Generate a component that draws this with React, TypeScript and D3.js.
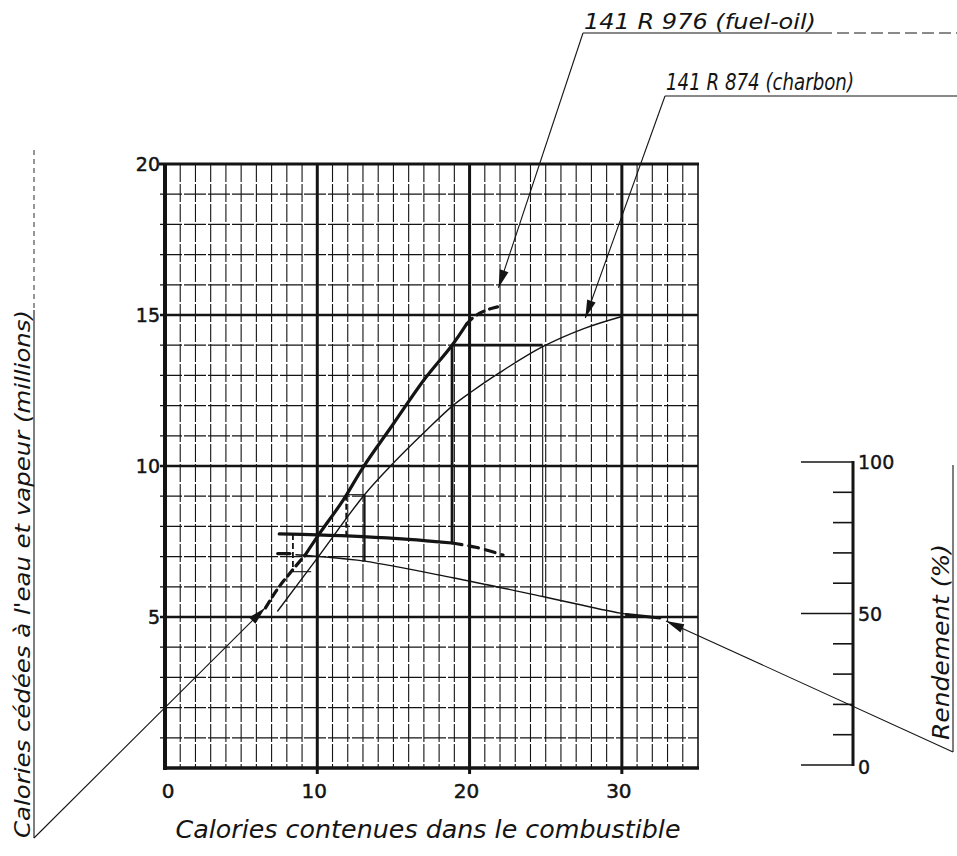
import React, { useEffect, useRef } from "react";
import * as d3 from "d3";

// axis ticks
const xTicks = [0, 10, 20, 30];
const yTicks = [5, 10, 15, 20];
const rendementTicks = [0, 10, 20, 30, 40, 50, 60, 70, 80, 90, 100];
const rendementLabels = [0, 50, 100];

// 141 R 976 (fuel-oil) : calories given vs calories in fuel (millions)
const fuelOutLow = [[6.6, 5.3], [7.35, 5.9], [8.2, 6.45], [9.2, 7.05]];
const fuelOutMain = [[9.2, 7.05], [10.2, 7.8], [11.7, 8.87], [13, 9.95], [15, 11.4], [17, 12.85], [18.85, 14.0], [19.8, 14.7]];
const fuelOutTop = [[19.8, 14.7], [20.4, 14.98], [21.2, 15.18], [22.1, 15.3]];

// 141 R 874 (charbon)
const charbonOut = [[7.4, 5.2], [10, 6.95], [13.1, 9.05], [15, 10.1], [17.2, 11.2], [18.9, 12.0], [20.1, 12.45], [22, 13.1], [24.8, 13.95], [27.5, 14.55], [30, 14.95]];

// efficiency curves (y * 10 = %)
const fuelEff = [[7.5, 7.75], [10, 7.72], [13, 7.66], [16, 7.57], [18.85, 7.45]];
const fuelEffDash = [[18.85, 7.45], [20.5, 7.3], [22.2, 7.05]];
const charbonEffStub = [[7.4, 7.1], [8.2, 7.1]];
const charbonEff = [[8.6, 7.06], [10.2, 7.0], [13.1, 6.85], [18.9, 6.3], [24.8, 5.68], [29.9, 5.13], [32.5, 4.97]];
const charbonEffEnd = [[30.3, 5.08], [32.5, 4.97]];

// construction lines [x1, y1, x2, y2]
const buildThick = [[18.85, 14.0, 18.85, 7.45], [18.85, 14.0, 24.8, 14.0]];
const buildMedium = [[13.1, 9.05, 13.1, 6.85]];
const buildThin = [[24.8, 14.0, 24.8, 5.68], [11.9, 9.05, 13.1, 9.05], [8.4, 6.5, 9.6, 6.5]];
const buildDashed = [[11.9, 9.05, 11.9, 7.65], [8.4, 7.75, 8.4, 6.5]];

// arrow tips of the label leaders (data units)
const fuelTip = [21.9, 15.9];
const charbonTip = [27.6, 14.9];
const rendementTip = [32.9, 4.87];
const yLabelTip = [6.57, 5.3];

const ink = "#141414";
const font = "'DejaVu Sans', sans-serif";

const App = () => {
  const svgRef = useRef(null);

  useEffect(() => {
    const svg = d3.select(svgRef.current);
    svg.selectAll("*").remove();

    const x = d3.scaleLinear().domain([0, 35]).range([165, 698]);
    const y = d3.scaleLinear().domain([0, 20]).range([768, 164]);
    const r = d3.scaleLinear().domain([0, 100]).range([765, 462]);
    const rX = 853;

    const g = svg.append("g");

    // grid
    const unitsX = d3.range(1, 35);
    const unitsY = d3.range(1, 20);
    g.selectAll(".vx")
      .data(unitsX)
      .enter()
      .append("line")
      .attr("x1", (d) => x(d))
      .attr("x2", (d) => x(d))
      .attr("y1", y(20))
      .attr("y2", (d) => (d % 10 === 0 ? y(0) + 6 : y(0)))
      .attr("stroke", ink)
      .attr("stroke-width", (d) => (d % 10 === 0 ? 3 : 1.1))
      .attr("stroke-dasharray", (d) => (d % 10 === 0 ? null : "18,2"));

    g.selectAll(".hy")
      .data(unitsY)
      .enter()
      .append("line")
      .attr("x1", x(0) - 5)
      .attr("x2", x(35))
      .attr("y1", (d) => y(d))
      .attr("y2", (d) => y(d))
      .attr("stroke", ink)
      .attr("stroke-width", (d) => (d % 5 === 0 ? 2.6 : 1.3))
      .attr("stroke-dasharray", (d) => (d % 5 === 0 ? null : "22,2"));

    // frame
    g.append("line").attr("x1", x(0) - 6).attr("x2", x(35) + 1).attr("y1", y(20)).attr("y2", y(20)).attr("stroke", ink).attr("stroke-width", 3);
    g.append("line").attr("x1", x(0) - 2).attr("x2", x(35) + 1).attr("y1", y(0)).attr("y2", y(0)).attr("stroke", ink).attr("stroke-width", 3.5);
    g.append("line").attr("x1", x(0)).attr("x2", x(0)).attr("y1", y(20) - 1).attr("y2", y(0) + 2).attr("stroke", ink).attr("stroke-width", 4);
    g.append("line").attr("x1", x(35)).attr("x2", x(35)).attr("y1", y(20)).attr("y2", y(0)).attr("stroke", ink).attr("stroke-width", 1.6);

    // tick labels
    g.selectAll(".xt")
      .data(xTicks)
      .enter()
      .append("text")
      .attr("x", (d) => x(d) + (d === 0 ? 3 : -3))
      .attr("y", 798)
      .attr("text-anchor", "middle")
      .attr("font-family", font)
      .attr("font-size", 20)
      .attr("stroke", ink)
      .attr("stroke-width", 0.5)
      .attr("fill", ink)
      .text((d) => d);

    g.selectAll(".yt")
      .data(yTicks)
      .enter()
      .append("text")
      .attr("x", x(0) - 5)
      .attr("y", (d) => y(d) + 7)
      .attr("text-anchor", "end")
      .attr("font-family", font)
      .attr("font-size", 19)
      .attr("stroke", ink)
      .attr("stroke-width", 0.5)
      .attr("fill", ink)
      .text((d) => d);

    const line = d3
      .line()
      .x((d) => x(d[0]))
      .y((d) => y(d[1]))
      .curve(d3.curveCatmullRom);

    const draw = (pts, w, dash) =>
      g.append("path")
        .attr("d", line(pts))
        .attr("fill", "none")
        .attr("stroke", ink)
        .attr("stroke-width", w)
        .attr("stroke-linecap", "round")
        .attr("stroke-dasharray", dash || null);

    // curves
    draw(charbonOut, 1.4);
    draw(fuelOutLow, 3.2, "8,5");
    draw(fuelOutMain, 3.2);
    draw(fuelOutTop, 3.2, "8,6");
    draw(fuelEff, 3.2);
    draw(fuelEffDash, 3.2, "10,7");
    draw(charbonEffStub, 3.2);
    draw(charbonEff, 1.4);
    draw(charbonEffEnd, 3);

    // construction lines
    const seg = (list, w, dash) =>
      list.forEach((s) =>
        g.append("line")
          .attr("x1", x(s[0]))
          .attr("y1", y(s[1]))
          .attr("x2", x(s[2]))
          .attr("y2", y(s[3]))
          .attr("stroke", ink)
          .attr("stroke-width", w)
          .attr("stroke-dasharray", dash || null)
      );
    seg(buildThick, 2.8);
    seg(buildMedium, 2.2);
    seg(buildThin, 1.1);
    seg(buildDashed, 1.8, "6,3");

    // leader with arrowhead
    const leader = (from, tipData) => {
      const tx = x(tipData[0]);
      const ty = y(tipData[1]);
      g.append("line")
        .attr("x1", from[0])
        .attr("y1", from[1])
        .attr("x2", tx)
        .attr("y2", ty)
        .attr("stroke", ink)
        .attr("stroke-width", 1.1);
      const a = Math.atan2(ty - from[1], tx - from[0]);
      const L = 18;
      const w = 4.5;
      const bx = tx - L * Math.cos(a);
      const by = ty - L * Math.sin(a);
      const px = -Math.sin(a) * w;
      const py = Math.cos(a) * w;
      g.append("polygon")
        .attr("points", `${tx},${ty} ${bx + px},${by + py} ${bx - px},${by - py}`)
        .attr("fill", ink);
    };

    // label helper
    const label = (txt, lx, ly, len, size, rotate) =>
      g.append("text")
        .attr("transform", rotate ? `translate(${lx},${ly}) rotate(-90)` : `translate(${lx},${ly})`)
        .attr("text-anchor", "middle")
        .attr("font-family", font)
        .attr("font-style", "italic")
        .attr("font-size", size)
        .attr("textLength", len)
        .attr("lengthAdjust", "spacingAndGlyphs")
        .attr("fill", ink)
        .text(txt);

    // top labels
    label("141 R 976 (fuel-oil)", 700, 29, 232, 22);
    g.append("line").attr("x1", 583).attr("x2", 820).attr("y1", 33).attr("y2", 33).attr("stroke", ink).attr("stroke-width", 1.1);
    g.append("line").attr("x1", 820).attr("x2", 957).attr("y1", 33).attr("y2", 33).attr("stroke", ink).attr("stroke-width", 1).attr("stroke-dasharray", "12,5");
    leader([583, 33], fuelTip);

    label("141 R 874 (charbon)", 760, 90, 188, 23);
    g.append("line").attr("x1", 665).attr("x2", 957).attr("y1", 96).attr("y2", 96).attr("stroke", ink).attr("stroke-width", 1.1);
    leader([665, 96], charbonTip);

    // x axis title
    label("Calories contenues dans le combustible", 428, 838, 505, 25);

    // y axis title
    label("Calories cédées à l'eau et vapeur (millions)", 30, 574, 528, 22, true);
    g.append("line").attr("x1", 34).attr("x2", 34).attr("y1", 310).attr("y2", 838).attr("stroke", ink).attr("stroke-width", 1.1);
    g.append("line").attr("x1", 34).attr("x2", 34).attr("y1", 150).attr("y2", 310).attr("stroke", ink).attr("stroke-width", 0.9).attr("stroke-dasharray", "5,4");
    leader([34, 838], yLabelTip);

    // rendement scale
    g.append("line").attr("x1", rX).attr("x2", rX).attr("y1", r(100) - 1).attr("y2", r(0) + 1).attr("stroke", ink).attr("stroke-width", 3);
    g.selectAll(".rt")
      .data(rendementTicks)
      .enter()
      .append("line")
      .attr("x1", (d) => (d % 50 === 0 ? rX - 52 : rX - 20))
      .attr("x2", rX)
      .attr("y1", (d) => r(d))
      .attr("y2", (d) => r(d))
      .attr("stroke", ink)
      .attr("stroke-width", 1.6);
    g.selectAll(".rl")
      .data(rendementLabels)
      .enter()
      .append("text")
      .attr("x", rX + 5)
      .attr("y", (d) => r(d) + (d === 0 ? 9 : 7))
      .attr("font-family", font)
      .attr("font-size", 19)
      .attr("stroke", ink)
      .attr("stroke-width", 0.4)
      .attr("fill", ink)
      .text((d) => d);

    label("Rendement (%)", 949, 642, 196, 23, true);
    g.append("line").attr("x1", 953).attr("x2", 953).attr("y1", 465).attr("y2", 752).attr("stroke", ink).attr("stroke-width", 1.1);
    leader([953, 752], rendementTip);
  }, []);

  return (
    <svg
      ref={svgRef}
      width={957}
      height={856}
      style={{ position: "absolute", left: 0, top: 0, background: "#fff" }}
    ></svg>
  );
};

export default App;
